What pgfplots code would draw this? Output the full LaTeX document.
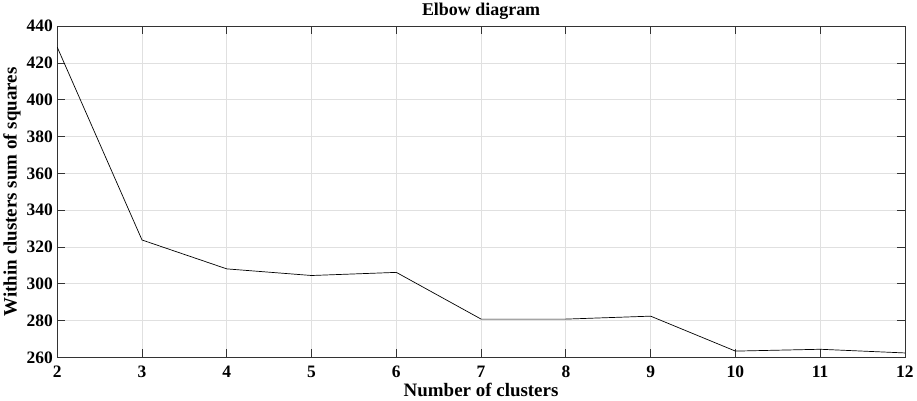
\documentclass[border=0pt]{standalone}
\usepackage{fontspec}
\setmainfont{Liberation Serif}
\usepackage{pgfplots}
\pgfplotsset{compat=1.18}
\begin{document}
\begin{tikzpicture}[x=1pt,y=1pt]
\begin{axis}[
  scale only axis,
  width=850pt, height=332pt,
  xmin=2, xmax=12, ymin=260, ymax=440,
  xtick={2,...,12}, ytick={260,280,...,440},
  grid=major,
  major grid style={draw=black!12, line width=0.8pt},
  axis line style={draw=black!80, line width=0.9pt},
  tick style={draw=black!80, line width=0.9pt},
  major tick length=8pt,
  tick align=inside,
  /pgf/number format/assume math mode=true,
  /pgf/number format/1000 sep={},
  ticklabel style={font=\fontsize{17.5}{20}\selectfont\bfseries},
  label style={font=\fontsize{19}{22}\selectfont\bfseries},
  title style={font=\fontsize{18}{22}\selectfont\bfseries, yshift=-3pt},
  title={Elbow diagram},
  xlabel={Number of clusters},
  ylabel={Within clusters sum of squares},
  xticklabel style={yshift=-5pt},
  xlabel style={yshift=1pt},
  ylabel style={yshift=-1pt},
  yticklabel style={xshift=-1pt},
]
\addplot[black, line width=0.7pt, mark=none] coordinates {
(2,428.6) (3,323.8) (4,308.1) (5,304.5) (6,306.2) (7,280.8) (8,280.8) (9,282.4) (10,263.4) (11,264.4) (12,262.4)
};
\end{axis}
\end{tikzpicture}
\end{document}
